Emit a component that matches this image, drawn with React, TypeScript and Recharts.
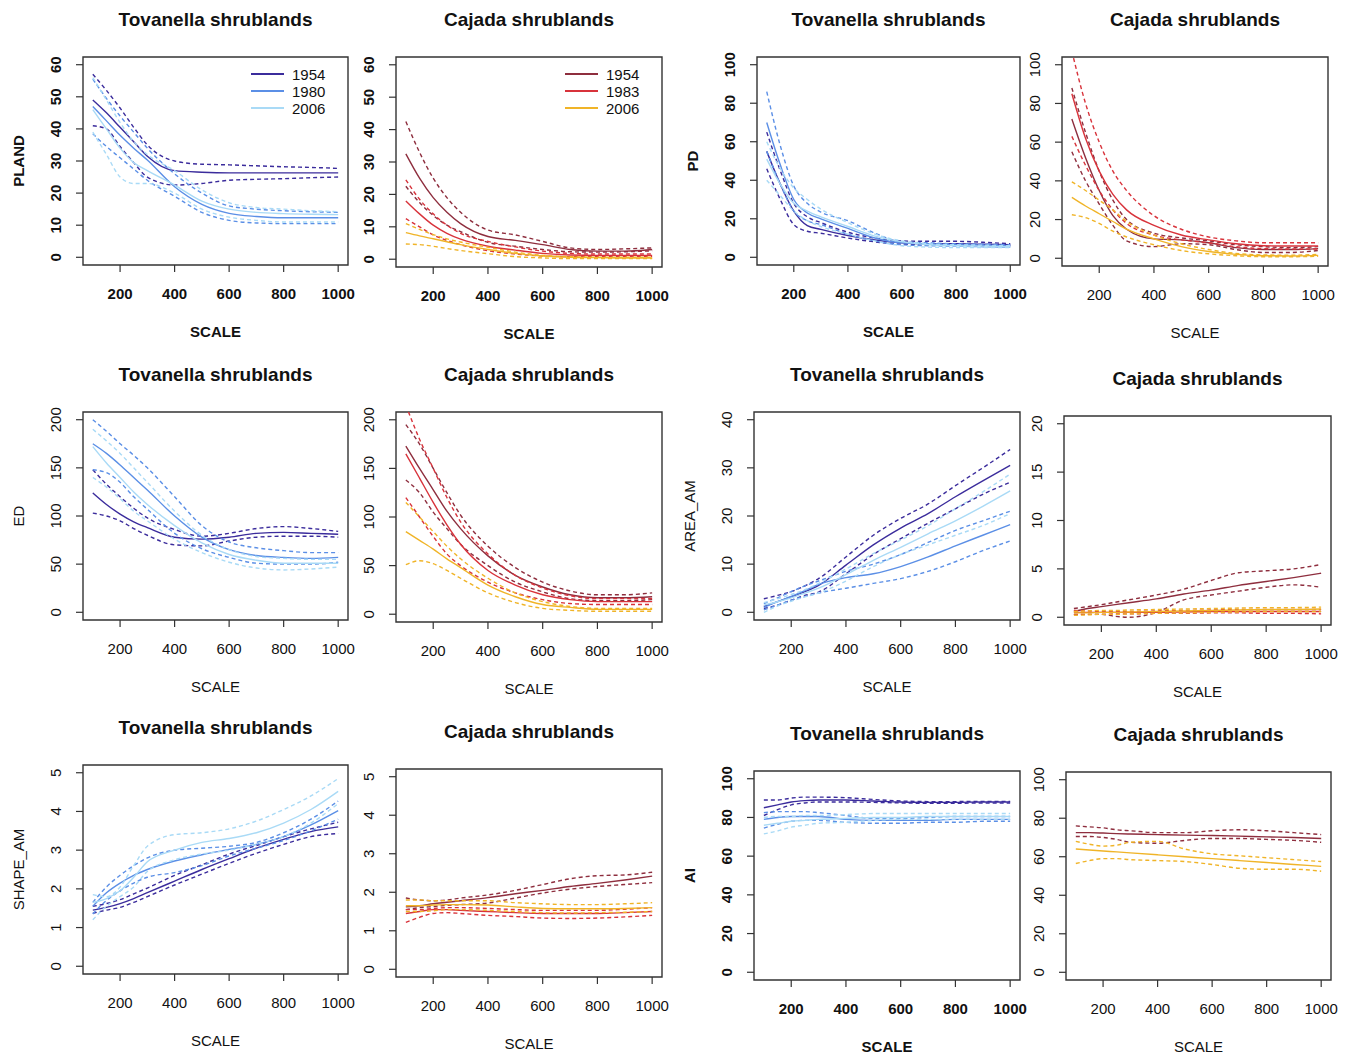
import React from 'react';
import { LineChart, Line, XAxis, YAxis, ReferenceArea } from 'recharts';

const FONT = '"Liberation Sans", Arial, Helvetica, sans-serif';

// x positions shared by every curve
const SCALE = [100, 150, 200, 250, 300, 400, 500, 600, 700, 800, 900, 1000];
const X_TICKS = [200, 400, 600, 800, 1000];

const TOV_YEARS = ['1954', '1980', '2006'];
const CAJ_YEARS = ['1954', '1983', '2006'];
const TOV_COLORS = ['#3b2c9c', '#5b8fe6', '#a9daf6'];
const CAJ_COLORS = ['#8e2e3e', '#d8333b', '#f0b428'];

const PLAND_TICKS = [0, 10, 20, 30, 40, 50, 60];
const PD_TICKS = [0, 20, 40, 60, 80, 100];
const ED_TICKS = [0, 50, 100, 150, 200];
const AREA_TOV_TICKS = [0, 10, 20, 30, 40];
const AREA_CAJ_TICKS = [0, 5, 10, 15, 20];
const SHAPE_TICKS = [0, 1, 2, 3, 4, 5];
const AI_TICKS = [0, 20, 40, 60, 80, 100];

// --- PLAND ---
const plandTov1954 = [49, 45, 40.5, 36, 31.5, 27, 26.5, 26.3, 26.3, 26.3, 26.3, 26.3];
const plandTov1954Hi = [57, 52, 46.5, 40.5, 35, 30, 29, 28.8, 28.5, 28.2, 28, 27.7];
const plandTov1954Lo = [41, 40, 34.5, 29.5, 25, 22.5, 23, 24, 24.3, 24.5, 24.8, 25];
const plandTov1980 = [47, 42.5, 38, 34, 30.3, 22, 16.5, 13.7, 12.7, 12.3, 12.3, 12.3];
const plandTov1980Hi = [55.5, 49.5, 44, 39, 34, 26, 20, 16, 15, 14.5, 14.2, 14];
const plandTov1980Lo = [38.5, 34.5, 31, 27.5, 24, 19, 14, 11.5, 10.7, 10.5, 10.5, 10.5];
const plandTov2006 = [46, 40, 34, 29.5, 27, 22.5, 17.5, 15, 14, 13.6, 13.4, 13.3];
const plandTov2006Hi = [56, 49, 42, 36, 32, 27, 21, 17, 15.5, 15, 14.5, 14.2];
const plandTov2006Lo = [39, 32, 25, 23, 23, 20, 15, 12.5, 11.5, 11, 11, 11];

const plandCaj1954 = [32.5, 25, 19, 14.5, 11, 7, 5.8, 4.5, 3, 2.5, 2.5, 3];
const plandCaj1954Hi = [42.5, 33, 25, 19, 14.5, 9, 7.5, 5.5, 3.5, 3, 3.2, 3.5];
const plandCaj1954Lo = [22.5, 17.5, 13.5, 10.5, 8.5, 5.2, 4, 3, 2.3, 2.2, 2.3, 2.6];
const plandCaj1983 = [18, 14, 10.5, 8, 6.2, 4, 2.8, 1.8, 1.3, 1.2, 1.2, 1.2];
const plandCaj1983Hi = [24.5, 18.5, 14, 10.5, 8, 5.5, 3.8, 2.5, 1.8, 1.6, 1.6, 1.6];
const plandCaj1983Lo = [12.5, 10, 7.5, 5.8, 4.5, 2.6, 1.6, 1, 0.8, 0.8, 0.8, 0.8];
const plandCaj2006 = [8.2, 7.2, 6.3, 5.4, 4.5, 3, 1.8, 1, 0.6, 0.5, 0.4, 0.4];
const plandCaj2006Hi = [11, 9.2, 7.6, 6.3, 5.3, 3.7, 2.2, 1.2, 0.8, 0.6, 0.6, 0.6];
const plandCaj2006Lo = [4.7, 4.5, 4, 3.3, 2.7, 1.7, 0.8, 0.4, 0.2, 0.2, 0.2, 0.2];

// --- PD ---
const pdTov1954 = [55, 38, 24, 16.5, 14.5, 11.3, 9, 7.5, 7, 7, 6.8, 6.5];
const pdTov1954Hi = [65, 45, 28, 21, 18, 13, 10, 8.5, 8.3, 8.3, 7.8, 7];
const pdTov1954Lo = [46, 30, 17, 13.5, 12.5, 10, 8, 6.8, 6.5, 6.5, 6.2, 6];
const pdTov1980 = [70, 48, 30, 23, 20, 15, 10, 7.5, 7, 6.5, 6.3, 6];
const pdTov1980Hi = [86, 58, 37, 28, 23.5, 19, 12.5, 8, 7.5, 7, 6.8, 6.5];
const pdTov1980Lo = [55, 38, 24, 19, 17, 12, 8.5, 6.5, 6, 5.8, 5.5, 5.3];
const pdTov2006 = [51, 38, 28, 24, 21, 16, 11, 8, 6.5, 6, 5.8, 5.5];
const pdTov2006Hi = [60, 46, 36, 30, 25, 18, 12, 8.5, 7, 6.5, 6.3, 6];
const pdTov2006Lo = [40, 32, 24, 19, 16, 12, 8.5, 6, 5.3, 5, 5, 5];

const pdCaj1954 = [72, 52, 35, 22, 15, 10, 9.5, 8, 5.5, 4.5, 4.5, 5];
const pdCaj1954Hi = [88, 65, 45, 30, 20, 13, 10.5, 9, 7, 6, 5.5, 6];
const pdCaj1954Lo = [55, 40, 28, 17, 9, 6, 7.5, 7, 4.5, 3, 3, 4];
const pdCaj1983 = [85, 62, 45, 33, 25, 17, 12, 9.5, 7.5, 6.5, 6.3, 6.3];
const pdCaj1983Hi = [107, 80, 60, 45, 35, 22, 15, 11, 9, 8, 8, 8];
const pdCaj1983Lo = [63, 48, 35, 25, 18, 12, 9.5, 8, 6, 5, 4.8, 4.8];
const pdCaj2006 = [31.5, 27, 23, 19, 15, 10, 6, 3.5, 2, 1.3, 1.2, 1.5];
const pdCaj2006Hi = [39.5, 35, 30, 25, 19, 12, 7.5, 4.5, 2.5, 1.7, 1.6, 2];
const pdCaj2006Lo = [22.5, 21, 18, 14, 11, 7, 4, 2.3, 1.3, 0.8, 0.8, 1];

// --- ED ---
const edTov1954 = [124, 112, 102, 94, 88, 78, 76, 78, 82, 83, 82, 81];
const edTov1954Hi = [148, 133, 120, 108, 98, 86, 79, 82, 87, 89, 87, 84];
const edTov1954Lo = [103, 100, 95, 87, 80, 70, 69, 74, 78, 79, 79, 78];
const edTov1980 = [175, 165, 153, 140, 127, 100, 78, 65, 59, 57, 56, 57];
const edTov1980Hi = [200, 188, 175, 163, 150, 120, 90, 73, 67, 64, 62, 62];
const edTov1980Lo = [148, 145, 135, 120, 107, 82, 66, 57, 51, 50, 50, 52];
const edTov2006 = [172, 155, 140, 125, 112, 90, 72, 60, 54, 51, 51, 51];
const edTov2006Hi = [190, 178, 165, 150, 135, 105, 80, 65, 58, 56, 55, 55];
const edTov2006Lo = [140, 130, 118, 105, 95, 76, 62, 52, 46, 44, 45, 47];

const edCaj1954 = [173, 150, 128, 106, 88, 60, 40, 28, 20, 17, 17, 18];
const edCaj1954Hi = [195, 175, 150, 125, 102, 70, 48, 33, 24, 20, 20, 22];
const edCaj1954Lo = [138, 125, 105, 88, 72, 50, 33, 23, 16, 14, 14, 15];
const edCaj1983 = [165, 140, 115, 92, 72, 45, 30, 20, 15, 13, 13, 13];
const edCaj1983Hi = [215, 180, 150, 120, 95, 62, 40, 27, 19, 16, 16, 16];
const edCaj1983Lo = [120, 100, 80, 62, 50, 33, 22, 15, 11, 10, 10, 10];
const edCaj2006 = [85, 76, 67, 57, 48, 30, 18, 10, 7, 5, 5, 5];
const edCaj2006Hi = [115, 100, 85, 70, 57, 37, 22, 13, 8, 6, 6, 6];
const edCaj2006Lo = [51, 55, 52, 45, 37, 22, 12, 6, 4, 3, 3, 3];

// --- AREA_AM ---
const areaTov1954 = [1.2, 2.2, 3.2, 4.3, 5.6, 9.8, 14, 17.5, 20.5, 24, 27.3, 30.5];
const areaTov1954Hi = [2.8, 3.5, 4.3, 5.5, 7, 11.5, 16, 19.5, 22.5, 26.3, 30, 33.8];
const areaTov1954Lo = [0.8, 1.5, 2.5, 3.5, 4.2, 8, 12, 15.3, 18.5, 21.5, 24.5, 27];
const areaTov1980 = [1, 2.2, 3.3, 4.5, 5.8, 7.2, 8, 9.5, 11.5, 13.8, 16, 18.2];
const areaTov1980Hi = [1.8, 3, 4.3, 5.5, 6.5, 8.5, 10, 12, 14.5, 17, 19, 21];
const areaTov1980Lo = [0.5, 1.5, 2.5, 3.3, 4, 5, 6, 7, 8.5, 10.5, 12.8, 14.8];
const areaTov2006 = [1.5, 2.2, 3, 4, 5, 7.8, 10.8, 13.5, 16.3, 19, 22, 25.2];
const areaTov2006Hi = [2, 2.8, 3.7, 4.7, 6, 9, 12.2, 15, 18, 21.5, 25, 28.7];
const areaTov2006Lo = [0, 1.3, 2.3, 3.2, 4, 6.5, 9.5, 12, 14, 16, 18, 20.5];

const areaCaj1954 = [0.6, 0.9, 1.1, 1.3, 1.5, 1.9, 2.4, 2.8, 3.3, 3.7, 4.1, 4.55];
const areaCaj1954Hi = [0.9, 1.1, 1.3, 1.55, 1.8, 2.3, 2.9, 3.8, 4.6, 4.8, 5, 5.45];
const areaCaj1954Lo = [0.3, 0.3, 0.3, 0.1, 0, 0.5, 1.8, 2.3, 2.7, 3.1, 3.35, 3.1];
const areaCaj1983 = [0.5, 0.5, 0.5, 0.5, 0.5, 0.5, 0.55, 0.6, 0.6, 0.6, 0.6, 0.6];
const areaCaj1983Hi = [0.7, 0.65, 0.6, 0.6, 0.6, 0.65, 0.7, 0.75, 0.8, 0.8, 0.8, 0.8];
const areaCaj1983Lo = [0.3, 0.3, 0.3, 0.35, 0.35, 0.4, 0.4, 0.45, 0.45, 0.4, 0.4, 0.35];
const areaCaj2006 = [0.45, 0.45, 0.5, 0.5, 0.55, 0.6, 0.65, 0.7, 0.75, 0.8, 0.8, 0.85];
const areaCaj2006Hi = [0.6, 0.65, 0.7, 0.7, 0.75, 0.8, 0.85, 0.9, 0.95, 1, 1, 1.05];
const areaCaj2006Lo = [0.2, 0.25, 0.3, 0.3, 0.35, 0.4, 0.45, 0.5, 0.55, 0.6, 0.6, 0.6];

// --- SHAPE_AM ---
const shapeTov1954 = [1.45, 1.52, 1.62, 1.75, 1.9, 2.2, 2.5, 2.78, 3.05, 3.28, 3.48, 3.6];
const shapeTov1954Hi = [1.55, 1.62, 1.72, 1.87, 2.02, 2.35, 2.62, 2.9, 3.12, 3.35, 3.55, 3.72];
const shapeTov1954Lo = [1.37, 1.45, 1.52, 1.65, 1.8, 2.1, 2.38, 2.66, 2.92, 3.15, 3.35, 3.43];
const shapeTov1980 = [1.55, 1.9, 2.15, 2.35, 2.5, 2.72, 2.88, 3.02, 3.15, 3.35, 3.65, 4.02];
const shapeTov1980Hi = [1.65, 2.05, 2.35, 2.6, 2.8, 3.0, 3.05, 3.1, 3.2, 3.45, 3.8, 4.27];
const shapeTov1980Lo = [1.35, 1.7, 1.95, 2.15, 2.3, 2.42, 2.6, 2.85, 3.05, 3.25, 3.5, 3.8];
const shapeTov2006 = [1.65, 1.75, 1.95, 2.3, 2.7, 3.0, 3.2, 3.3, 3.45, 3.7, 4.05, 4.52];
const shapeTov2006Hi = [1.85, 1.8, 2.05, 2.6, 3.1, 3.4, 3.45, 3.55, 3.75, 4.05, 4.4, 4.85];
const shapeTov2006Lo = [1.2, 1.55, 1.8, 2.05, 2.45, 2.75, 2.9, 3.0, 3.15, 3.35, 3.7, 4.2];

const shapeCaj1954 = [1.62, 1.65, 1.7, 1.74, 1.78, 1.86, 1.96, 2.05, 2.15, 2.23, 2.32, 2.42];
const shapeCaj1954Hi = [1.85, 1.8, 1.78, 1.8, 1.85, 1.93, 2.05, 2.2, 2.35, 2.43, 2.45, 2.52];
const shapeCaj1954Lo = [1.55, 1.6, 1.63, 1.66, 1.68, 1.72, 1.85, 1.98, 2.08, 2.15, 2.2, 2.25];
const shapeCaj1983 = [1.45, 1.5, 1.55, 1.55, 1.53, 1.5, 1.47, 1.45, 1.45, 1.45, 1.47, 1.5];
const shapeCaj1983Hi = [1.55, 1.55, 1.58, 1.6, 1.6, 1.58, 1.55, 1.53, 1.53, 1.53, 1.56, 1.6];
const shapeCaj1983Lo = [1.22, 1.35, 1.45, 1.47, 1.45, 1.4, 1.37, 1.33, 1.32, 1.33, 1.36, 1.4];
const shapeCaj2006 = [1.65, 1.65, 1.67, 1.68, 1.68, 1.67, 1.62, 1.58, 1.57, 1.57, 1.58, 1.6];
const shapeCaj2006Hi = [1.8, 1.8, 1.78, 1.78, 1.78, 1.78, 1.73, 1.7, 1.68, 1.68, 1.7, 1.73];
const shapeCaj2006Lo = [1.5, 1.5, 1.52, 1.55, 1.55, 1.53, 1.5, 1.47, 1.46, 1.47, 1.48, 1.5];

// --- AI ---
const aiTov1954 = [85, 86.5, 88, 88.7, 89, 89, 88.5, 88, 87.8, 87.8, 88, 88];
const aiTov1954Hi = [89, 89, 90, 90.5, 90.5, 90.2, 89.3, 88.5, 88.2, 88.2, 88.3, 88.3];
const aiTov1954Lo = [81, 84, 86.5, 87.5, 88, 88, 87.8, 87.5, 87.3, 87.3, 87.5, 87.5];
const aiTov1980 = [79, 80, 80.5, 80.5, 80.5, 79, 78.5, 78.5, 78.5, 79, 79, 79];
const aiTov1980Hi = [82.5, 83, 83, 83, 82.5, 81, 79.5, 79.5, 80, 80.5, 80.5, 80.5];
const aiTov1980Lo = [74.5, 76.5, 78, 78.5, 78.5, 77.5, 77, 77, 77.5, 77.5, 78, 78];
const aiTov2006 = [76, 77, 78, 78.5, 79, 79.5, 80, 80, 80.5, 80.5, 80.5, 80.5];
const aiTov2006Hi = [80, 80.5, 80.5, 81, 81, 81.5, 82, 82, 82, 82, 82, 82];
const aiTov2006Lo = [71.5, 73, 75, 76, 77, 77.5, 78.5, 79, 79, 79, 79, 79];

const aiCaj1954 = [72.5, 72.5, 72.3, 72, 71.8, 71.5, 71.2, 71, 70.7, 70.3, 70, 69.5];
const aiCaj1954Hi = [76, 75.5, 75, 74, 73.5, 72.5, 72.5, 73.5, 74, 73.5, 72.5, 71.5];
const aiCaj1954Lo = [70.5, 70.5, 70, 69, 67.5, 67, 68.5, 69.5, 69.5, 69, 68.5, 67.5];
const aiCaj2006 = [64, 63.5, 63, 62.5, 62, 61, 60, 59, 58, 57, 56, 55];
const aiCaj2006Hi = [68, 66.5, 65.5, 66, 67.5, 68, 64, 61.5, 60.5, 59.5, 58.5, 57.5];
const aiCaj2006Lo = [56.5, 58, 59, 59, 58.5, 58, 57.5, 56, 54, 53.5, 53.5, 52.5];

type PanelCfg = {
  box: [number, number, number, number]; // left, top, right, bottom of the plot box
  ticks: number[];
  title: string;
  yLabel?: string;
  bold?: boolean;
  colors: string[];
  legend?: string[];
  series: number[][]; // per year: fit, upper, lower
};

const TOV = 'Tovanella shrublands';
const CAJ = 'Cajada shrublands';

const PANELS: PanelCfg[] = [
  { box: [83, 57, 348, 265], ticks: PLAND_TICKS, title: TOV, yLabel: 'PLAND', bold: true, colors: TOV_COLORS, legend: TOV_YEARS,
    series: [plandTov1954, plandTov1954Hi, plandTov1954Lo, plandTov1980, plandTov1980Hi, plandTov1980Lo, plandTov2006, plandTov2006Hi, plandTov2006Lo] },
  { box: [396, 57, 662, 267], ticks: PLAND_TICKS, title: CAJ, bold: true, colors: CAJ_COLORS, legend: CAJ_YEARS,
    series: [plandCaj1954, plandCaj1954Hi, plandCaj1954Lo, plandCaj1983, plandCaj1983Hi, plandCaj1983Lo, plandCaj2006, plandCaj2006Hi, plandCaj2006Lo] },
  { box: [757, 57, 1020, 265], ticks: PD_TICKS, title: TOV, yLabel: 'PD', bold: true, colors: TOV_COLORS,
    series: [pdTov1954, pdTov1954Hi, pdTov1954Lo, pdTov1980, pdTov1980Hi, pdTov1980Lo, pdTov2006, pdTov2006Hi, pdTov2006Lo] },
  { box: [1062, 57, 1328, 266], ticks: PD_TICKS, title: CAJ, colors: CAJ_COLORS,
    series: [pdCaj1954, pdCaj1954Hi, pdCaj1954Lo, pdCaj1983, pdCaj1983Hi, pdCaj1983Lo, pdCaj2006, pdCaj2006Hi, pdCaj2006Lo] },
  { box: [83, 412, 348, 620], ticks: ED_TICKS, title: TOV, yLabel: 'ED', colors: TOV_COLORS,
    series: [edTov1954, edTov1954Hi, edTov1954Lo, edTov1980, edTov1980Hi, edTov1980Lo, edTov2006, edTov2006Hi, edTov2006Lo] },
  { box: [396, 412, 662, 622], ticks: ED_TICKS, title: CAJ, colors: CAJ_COLORS,
    series: [edCaj1954, edCaj1954Hi, edCaj1954Lo, edCaj1983, edCaj1983Hi, edCaj1983Lo, edCaj2006, edCaj2006Hi, edCaj2006Lo] },
  { box: [754, 412, 1020, 620], ticks: AREA_TOV_TICKS, title: TOV, yLabel: 'AREA_AM', colors: TOV_COLORS,
    series: [areaTov1954, areaTov1954Hi, areaTov1954Lo, areaTov1980, areaTov1980Hi, areaTov1980Lo, areaTov2006, areaTov2006Hi, areaTov2006Lo] },
  { box: [1064, 416, 1331, 625], ticks: AREA_CAJ_TICKS, title: CAJ, colors: CAJ_COLORS,
    series: [areaCaj1954, areaCaj1954Hi, areaCaj1954Lo, areaCaj1983, areaCaj1983Hi, areaCaj1983Lo, areaCaj2006, areaCaj2006Hi, areaCaj2006Lo] },
  { box: [83, 765, 348, 974], ticks: SHAPE_TICKS, title: TOV, yLabel: 'SHAPE_AM', colors: TOV_COLORS,
    series: [shapeTov1954, shapeTov1954Hi, shapeTov1954Lo, shapeTov1980, shapeTov1980Hi, shapeTov1980Lo, shapeTov2006, shapeTov2006Hi, shapeTov2006Lo] },
  { box: [396, 769, 662, 977], ticks: SHAPE_TICKS, title: CAJ, colors: CAJ_COLORS,
    series: [shapeCaj1954, shapeCaj1954Hi, shapeCaj1954Lo, shapeCaj1983, shapeCaj1983Hi, shapeCaj1983Lo, shapeCaj2006, shapeCaj2006Hi, shapeCaj2006Lo] },
  { box: [754, 771, 1020, 980], ticks: AI_TICKS, title: TOV, yLabel: 'AI', bold: true, colors: TOV_COLORS,
    series: [aiTov1954, aiTov1954Hi, aiTov1954Lo, aiTov1980, aiTov1980Hi, aiTov1980Lo, aiTov2006, aiTov2006Hi, aiTov2006Lo] },
  { box: [1066, 772, 1331, 980], ticks: AI_TICKS, title: CAJ, colors: [CAJ_COLORS[0], CAJ_COLORS[2]],
    series: [aiCaj1954, aiCaj1954Hi, aiCaj1954Lo, aiCaj2006, aiCaj2006Hi, aiCaj2006Lo] },
];

const ML = 52; // y axis width
const MT = 16; // room for the top tick label
const MR = 20; // room for the "1000" label
const MB = 48; // x axis height
const X_DOMAIN: [number, number] = [64, 1036];

const Panel: React.FC<{ cfg: PanelCfg }> = ({ cfg }) => {
  const [l, t, r, b] = cfg.box;
  const w = r - l;
  const h = b - t;
  const yMax = cfg.ticks[cfg.ticks.length - 1];
  const pad = yMax * 0.04;
  const yDomain: [number, number] = [-pad, yMax + pad];
  const weight = cfg.bold ? 'bold' : 'normal';

  const data = SCALE.map((s, i) => {
    const row: Record<string, number> = { scale: s };
    cfg.series.forEach((arr, k) => { row['s' + k] = arr[i]; });
    return row;
  });

  const xTick = (p: any) => (
    <text x={p.x} y={MT + h + 34} textAnchor="middle" fontSize={15} fontWeight={weight} fill="#111" fontFamily={FONT}>
      {p.payload.value}
    </text>
  );
  const yTick = (p: any) => {
    const bx = ML - 22;
    return (
      <text x={bx} y={p.y} transform={`rotate(-90 ${bx} ${p.y})`} textAnchor="middle" fontSize={15} fontWeight={weight} fill="#111" fontFamily={FONT}>
        {p.payload.value}
      </text>
    );
  };

  return (
    <div style={{ position: 'absolute', left: l - ML, top: t - MT }}>
      <LineChart width={w + ML + MR} height={h + MT + MB} data={data} margin={{ top: MT, right: MR, bottom: 0, left: 0 }}>
        <XAxis dataKey="scale" type="number" domain={X_DOMAIN} ticks={X_TICKS} interval={0} allowDataOverflow
          height={MB} tickSize={7} axisLine={false} tickLine={{ stroke: '#333', strokeWidth: 1.2 }} tick={xTick} />
        <YAxis type="number" domain={yDomain} ticks={cfg.ticks} interval={0} allowDataOverflow
          width={ML} tickSize={7} axisLine={false} tickLine={{ stroke: '#333', strokeWidth: 1.2 }} tick={yTick} />
        {cfg.series.map((_, k) => (
          <Line key={k} dataKey={'s' + k} type="monotone" stroke={cfg.colors[Math.floor(k / 3)]}
            strokeWidth={1.4} strokeDasharray={k % 3 === 0 ? undefined : '4 3'}
            dot={false} activeDot={false} isAnimationActive={false} />
        ))}
        <ReferenceArea x1={X_DOMAIN[0]} x2={X_DOMAIN[1]} y1={yDomain[0]} y2={yDomain[1]} ifOverflow="visible"
          fill="none" stroke="#333" strokeWidth={1.4} />
      </LineChart>
    </div>
  );
};

const Labels: React.FC<{ cfg: PanelCfg }> = ({ cfg }) => {
  const [l, t, r, b] = cfg.box;
  const cx = (l + r) / 2;
  const cy = (t + b) / 2;
  const weight = cfg.bold ? 'bold' : 'normal';
  const lx = l - 59;
  return (
    <g fontFamily={FONT} fill="#111">
      <text x={cx} y={t - 31} textAnchor="middle" fontSize={19} fontWeight="bold">{cfg.title}</text>
      <text x={cx} y={b + 72} textAnchor="middle" fontSize={15} fontWeight={weight}>SCALE</text>
      {cfg.yLabel && (
        <text x={lx} y={cy} transform={`rotate(-90 ${lx} ${cy})`} textAnchor="middle" fontSize={15} fontWeight={weight}>
          {cfg.yLabel}
        </text>
      )}
      {cfg.legend && cfg.legend.map((yr, i) => (
        <g key={yr}>
          <line x1={r - 97} x2={r - 64} y1={t + 17 + i * 17} y2={t + 17 + i * 17} stroke={cfg.colors[i]} strokeWidth={2} />
          <text x={r - 56} y={t + 22.5 + i * 17} fontSize={15}>{yr}</text>
        </g>
      ))}
    </g>
  );
};

export default function App() {
  return (
    <div style={{ position: 'absolute', left: 0, top: 0, width: 1352, height: 1055, background: '#fff', fontFamily: FONT }}>
      {PANELS.map((cfg, i) => <Panel key={i} cfg={cfg} />)}
      <svg width={1352} height={1055} style={{ position: 'absolute', left: 0, top: 0, pointerEvents: 'none' }}>
        {PANELS.map((cfg, i) => <Labels key={i} cfg={cfg} />)}
      </svg>
    </div>
  );
}
